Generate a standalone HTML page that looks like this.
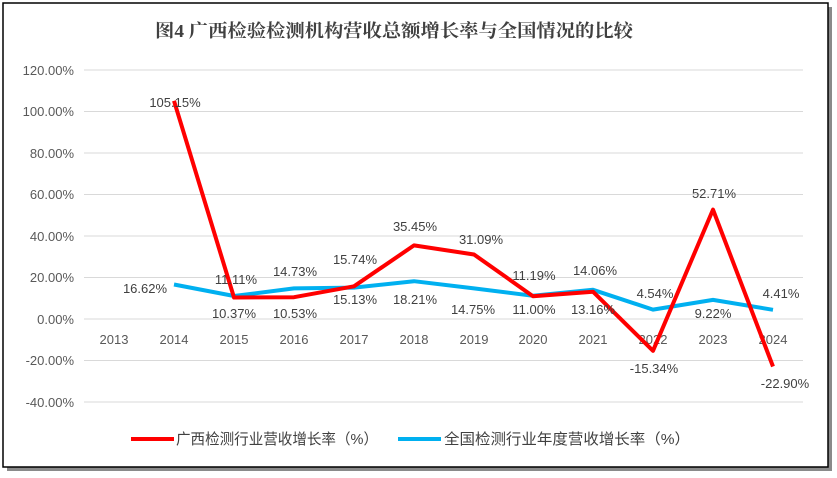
<!DOCTYPE html>
<html><head><meta charset="utf-8"><style>
body{margin:0;background:#fff;}
svg{display:block;font-family:"Liberation Sans","Noto Sans CJK SC",sans-serif;}
</style></head><body>
<svg width="837" height="478" xmlns="http://www.w3.org/2000/svg">
<rect x="7" y="7" width="825" height="464" fill="#8a8a8a"/>
<rect x="3" y="3" width="825" height="464" fill="#fff" stroke="#000" stroke-width="1.5"/>
<text x="394" y="37" text-anchor="middle" font-size="18" font-weight="bold" fill="#404040" font-family="'Liberation Serif','Noto Serif CJK SC',serif" textLength="478" lengthAdjust="spacingAndGlyphs">图4  广西检验检测机构营收总额增长率与全国情况的比较</text>
<g stroke="#d9d9d9" stroke-width="1">
<line x1="84" x2="803" y1="70" y2="70"/><line x1="84" x2="803" y1="111.5" y2="111.5"/>
<line x1="84" x2="803" y1="153" y2="153"/><line x1="84" x2="803" y1="194.5" y2="194.5"/>
<line x1="84" x2="803" y1="236" y2="236"/><line x1="84" x2="803" y1="277.5" y2="277.5"/>
<line x1="84" x2="803" y1="319" y2="319"/><line x1="84" x2="803" y1="360.5" y2="360.5"/>
<line x1="84" x2="803" y1="402" y2="402"/>
</g>
<g font-size="13" fill="#595959" text-anchor="end">
<text x="74" y="75">120.00%</text><text x="74" y="116">100.00%</text><text x="74" y="158">80.00%</text>
<text x="74" y="199">60.00%</text><text x="74" y="241">40.00%</text><text x="74" y="282">20.00%</text>
<text x="74" y="324">0.00%</text><text x="74" y="365">-20.00%</text><text x="74" y="407">-40.00%</text>
</g>
<g font-size="13" fill="#595959" text-anchor="middle">
<text x="114" y="344">2013</text><text x="174" y="344">2014</text><text x="234" y="344">2015</text>
<text x="294" y="344">2016</text><text x="354" y="344">2017</text><text x="414" y="344">2018</text>
<text x="474" y="344">2019</text><text x="533" y="344">2020</text><text x="593" y="344">2021</text>
<text x="653" y="344">2022</text><text x="713" y="344">2023</text><text x="773" y="344">2024</text>
</g>
<polyline fill="none" stroke="#00b0f0" stroke-width="4" stroke-linejoin="round" points="174,284.5 234,296 294,288.4 354,287.6 414,281.2 474,288.4 533,295.8 593,289.8 653,309.6 713,299.9 773,309.8"/>
<polyline fill="none" stroke="#ff0000" stroke-width="4" stroke-linejoin="round" points="174,100.8 234,297.5 294,297.2 354,286.3 414,245.4 474,254.5 533,296.2 593,291.7 653,350.8 713,209.6 773,366.5"/>
<g font-size="13" fill="#404040" text-anchor="middle">
<text x="175" y="107">105.15%</text>
<text x="236" y="284">11.11%</text><text x="234" y="318">10.37%</text>
<text x="295" y="276">14.73%</text><text x="295" y="318">10.53%</text>
<text x="355" y="264">15.74%</text><text x="355" y="304">15.13%</text>
<text x="415" y="231">35.45%</text><text x="415" y="304">18.21%</text>
<text x="481" y="244">31.09%</text><text x="473" y="314">14.75%</text>
<text x="534" y="280">11.19%</text><text x="534" y="314">11.00%</text>
<text x="595" y="275">14.06%</text><text x="593" y="314">13.16%</text>
<text x="655" y="298">4.54%</text><text x="654" y="373">-15.34%</text>
<text x="714" y="198">52.71%</text><text x="713" y="318">9.22%</text>
<text x="781" y="298">4.41%</text><text x="785" y="388">-22.90%</text>
<text x="145" y="293">16.62%</text>
</g>
<line x1="131" x2="174" y1="439" y2="439" stroke="#ff0000" stroke-width="4"/>
<text x="176" y="444" font-size="15" fill="#404040" textLength="202" lengthAdjust="spacingAndGlyphs">广西检测行业营收增长率（%）</text>
<line x1="398" x2="441" y1="439" y2="439" stroke="#00b0f0" stroke-width="4"/>
<text x="444" y="444" font-size="15" fill="#404040" textLength="246" lengthAdjust="spacingAndGlyphs">全国检测行业年度营收增长率（%）</text>
</svg>
</body></html>
